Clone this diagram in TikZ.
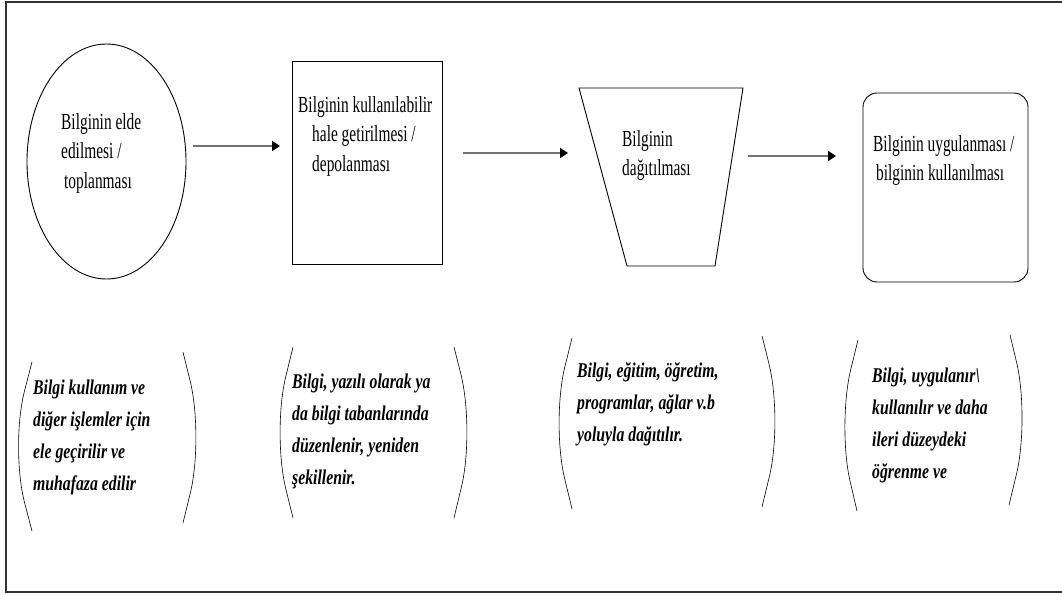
\documentclass[tikz,border=0pt]{standalone}
\usepackage{fontspec}
\setmainfont{Liberation Serif}
% condensed cuts of the serif for the stage labels and the notes
\newfontfamily\stagefont[FakeStretch=0.67]{Liberation Serif}
\newfontfamily\notefont[FakeStretch=0.75]{Liberation Serif}
\usetikzlibrary{arrows.meta,shapes.geometric}

\begin{document}
\begin{tikzpicture}[x=1pt,y=-1pt,
  outline/.style={draw=black, line width=0.9pt},
  frameline/.style={draw=black!80, line width=2pt},
  stagetext/.style={anchor=north west, inner sep=0pt, align=left,
    font=\stagefont\fontsize{23}{29.5}\selectfont},
  notetext/.style={anchor=north west, inner sep=0pt, align=left,
    font=\notefont\bfseries\itshape\fontsize{21}{32}\selectfont},
  flow/.style={draw=black!55, line width=1.8pt,
    -{Triangle[length=8pt,width=10pt,black]}},
  bracket/.style={draw=black, line width=0.6pt, rounded corners=58pt}]

\useasboundingbox (0,0) rectangle (1062,594);

% open frame: top, left and bottom rules
\draw[frameline] (1062,2) -- (6,2) -- (6,592) -- (1062,592);

% --- the four stages ---
\node[outline, ellipse, minimum width=159, minimum height=235] (collect) at (106.5,161.5) {};
\node[outline, rectangle, minimum width=150, minimum height=203] (store) at (367,162.5) {};
\draw[outline] (579,88) coordinate (spreadTL) -- (743,88) coordinate (spreadTR)
  -- (715,266) coordinate (spreadBR) -- (627,266) coordinate (spreadBL) -- cycle;
\node[outline, rectangle, rounded corners=14, minimum width=165, minimum height=189] (apply) at (945.5,187.5) {};

\node[stagetext] (collectText) at (61,112) {\rule{0pt}{17pt}Bilginin elde\\edilmesi /\\\hspace*{3pt}toplanması};
\node[stagetext] (storeText) at (298,95) {\rule{0pt}{17pt}Bilginin kullanılabilir\\\hspace*{14pt}hale getirilmesi /\\\hspace*{14pt}depolanması};
\node[stagetext] (spreadText) at (622,129) {\rule{0pt}{17pt}Bilginin\\dağıtılması};
\node[stagetext] (applyText) at (873,134) {\rule{0pt}{17pt}Bilginin uygulanması /\\\hspace*{3pt}bilginin kullanılması};

% --- arrows between stages ---
\coordinate (f1s) at (193,146); \coordinate (f1e) at (280,146);
\coordinate (f2s) at (463,153); \coordinate (f2e) at (568,153);
\coordinate (f3s) at (748,156); \coordinate (f3e) at (836,156);
\draw[flow] (f1s) -- (f1e);
\draw[flow] (f2s) -- (f2e);
\draw[flow] (f3s) -- (f3e);

% --- bracket pairs around the notes ---
\draw[bracket] (32,362) -- (10,447) -- (32,531);
\draw[bracket] (183,352) -- (204,437) -- (183,523);

\draw[bracket] (293,347) -- (272,433) -- (293,518);
\draw[bracket] (454,347) -- (475,430) -- (454,518);

\draw[bracket] (572,338) -- (551,422) -- (572,509);
\draw[bracket] (762,336) -- (783,420) -- (762,507);

\draw[bracket] (858,340) -- (837,425) -- (857,511);
\draw[bracket] (1010,335) -- (1030,418) -- (1009,505);

% --- notes ---
\node[notetext] (collectNote) at (33,378) {\rule{0pt}{16pt}Bilgi kullanım ve\\diğer işlemler için\\ele geçirilir ve\\muhafaza edilir};
\node[notetext] (storeNote) at (292,372) {\rule{0pt}{16pt}Bilgi, yazılı olarak ya\\da bilgi tabanlarında\\düzenlenir, yeniden\\şekillenir.};
\node[notetext] (spreadNote) at (577,361) {\rule{0pt}{16pt}Bilgi, eğitim, öğretim,\\programlar, ağlar v.b\\yoluyla dağıtılır.};
\node[notetext] (applyNote) at (872,366) {\rule{0pt}{16pt}Bilgi, uygulanır\textbackslash\\kullanılır ve daha\\ileri düzeydeki\\öğrenme ve};

\end{tikzpicture}
\end{document}
